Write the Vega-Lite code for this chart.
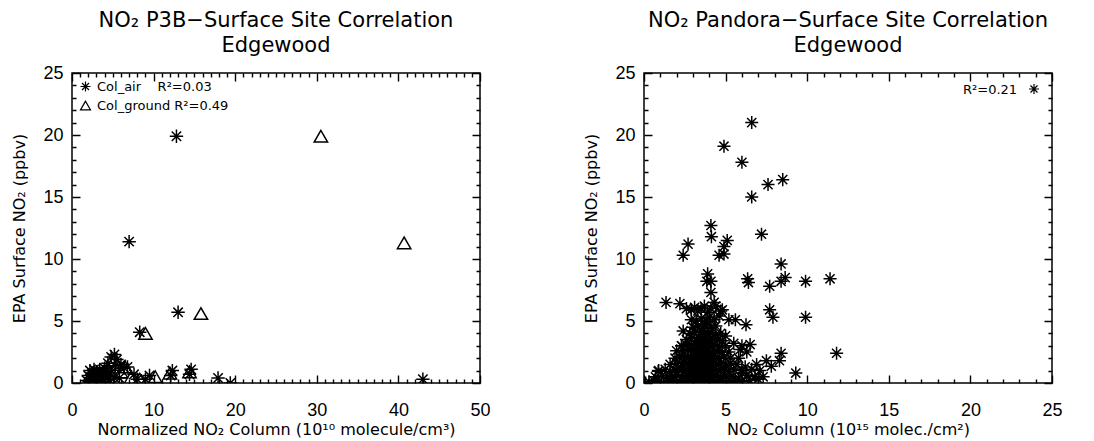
{
  "$schema": "https://vega.github.io/schema/vega-lite/v6.json",
  "background": "white",
  "padding": {"left": 11, "top": 9, "right": 5, "bottom": 0},
  "bounds": "flush",
  "spacing": 164,
  "resolve": {"scale": {"shape": "independent"}, "legend": {"shape": "independent"}},
  "config": {
    "view": {"stroke": "black", "strokeWidth": 1.5},
    "font": "DejaVu Sans",
    "axis": {"grid": true, "gridColor": "black", "gridOpacity": 1, "gridWidth": 1.4, "domain": false, "ticks": false, "labelColor": "black", "titleColor": "black", "labelFont": "Liberation Sans", "titleFont": "DejaVu Sans", "titleFontWeight": "normal", "labelOverlap": false, "labelFlush": false},
    "title": {"font": "DejaVu Sans", "fontWeight": "normal", "fontSize": 21, "lineHeight": 25, "offset": 8, "anchor": "middle", "color": "black"},
    "legend": {"labelFont": "DejaVu Sans", "titleFont": "DejaVu Sans", "labelColor": "black", "titleColor": "black"}
  },
  "datasets": {
    "p3b": [
      {"column": 12.8, "surface": 19.9, "series": "Col_air"},
      {"column": 7.0, "surface": 11.4, "series": "Col_air"},
      {"column": 13.0, "surface": 5.7, "series": "Col_air"},
      {"column": 8.3, "surface": 4.1, "series": "Col_air"},
      {"column": 1.8, "surface": 0.2, "series": "Col_air"},
      {"column": 2.0, "surface": 0.6, "series": "Col_air"},
      {"column": 2.2, "surface": 1.0, "series": "Col_air"},
      {"column": 2.4, "surface": 0.3, "series": "Col_air"},
      {"column": 2.5, "surface": 0.8, "series": "Col_air"},
      {"column": 2.7, "surface": 1.1, "series": "Col_air"},
      {"column": 2.8, "surface": 0.5, "series": "Col_air"},
      {"column": 3.0, "surface": 0.9, "series": "Col_air"},
      {"column": 3.1, "surface": 0.2, "series": "Col_air"},
      {"column": 3.3, "surface": 0.7, "series": "Col_air"},
      {"column": 3.4, "surface": 1.1, "series": "Col_air"},
      {"column": 3.6, "surface": 0.4, "series": "Col_air"},
      {"column": 3.8, "surface": 0.9, "series": "Col_air"},
      {"column": 3.9, "surface": 0.1, "series": "Col_air"},
      {"column": 4.1, "surface": 0.6, "series": "Col_air"},
      {"column": 4.3, "surface": 1.0, "series": "Col_air"},
      {"column": 4.5, "surface": 0.3, "series": "Col_air"},
      {"column": 4.7, "surface": 0.8, "series": "Col_air"},
      {"column": 2.1, "surface": 0.1, "series": "Col_air"},
      {"column": 2.9, "surface": 0.0, "series": "Col_air"},
      {"column": 3.7, "surface": 0.0, "series": "Col_air"},
      {"column": 4.0, "surface": 1.2, "series": "Col_air"},
      {"column": 4.4, "surface": 1.6, "series": "Col_air"},
      {"column": 4.8, "surface": 2.1, "series": "Col_air"},
      {"column": 5.2, "surface": 2.3, "series": "Col_air"},
      {"column": 5.5, "surface": 1.9, "series": "Col_air"},
      {"column": 5.3, "surface": 1.4, "series": "Col_air"},
      {"column": 6.0, "surface": 1.5, "series": "Col_air"},
      {"column": 6.4, "surface": 1.2, "series": "Col_air"},
      {"column": 6.8, "surface": 1.3, "series": "Col_air"},
      {"column": 5.8, "surface": 0.4, "series": "Col_air"},
      {"column": 5.2, "surface": 0.4, "series": "Col_air"},
      {"column": 7.6, "surface": 0.7, "series": "Col_air"},
      {"column": 8.0, "surface": 0.3, "series": "Col_air"},
      {"column": 9.0, "surface": 0.3, "series": "Col_air"},
      {"column": 9.5, "surface": 0.6, "series": "Col_air"},
      {"column": 12.1, "surface": 0.6, "series": "Col_air"},
      {"column": 12.3, "surface": 1.0, "series": "Col_air"},
      {"column": 14.4, "surface": 0.7, "series": "Col_air"},
      {"column": 14.6, "surface": 1.1, "series": "Col_air"},
      {"column": 17.9, "surface": 0.4, "series": "Col_air"},
      {"column": 19.4, "surface": 0.0, "series": "Col_air"},
      {"column": 43.0, "surface": 0.3, "series": "Col_air"},
      {"column": 30.5, "surface": 19.9, "series": "Col_ground"},
      {"column": 40.7, "surface": 11.3, "series": "Col_ground"},
      {"column": 15.8, "surface": 5.6, "series": "Col_ground"},
      {"column": 9.0, "surface": 4.0, "series": "Col_ground"},
      {"column": 10.2, "surface": 0.5, "series": "Col_ground"},
      {"column": 14.4, "surface": 0.9, "series": "Col_ground"},
      {"column": 7.2, "surface": 0.4, "series": "Col_ground"},
      {"column": 5.5, "surface": 1.5, "series": "Col_ground"},
      {"column": 6.5, "surface": 1.3, "series": "Col_ground"},
      {"column": 4.0, "surface": 0.5, "series": "Col_ground"},
      {"column": 3.0, "surface": 0.8, "series": "Col_ground"},
      {"column": 2.5, "surface": 0.4, "series": "Col_ground"},
      {"column": 3.5, "surface": 0.2, "series": "Col_ground"},
      {"column": 4.5, "surface": 1.0, "series": "Col_ground"},
      {"column": 12.0, "surface": 0.8, "series": "Col_ground"},
      {"column": 8.3, "surface": 0.3, "series": "Col_ground"},
      {"column": 6.0, "surface": 0.9, "series": "Col_ground"}
    ],
    "pandora": [
      {"column": 4.9, "surface": 19.1, "series": "Pandora"},
      {"column": 6.6, "surface": 21.0, "series": "Pandora"},
      {"column": 6.0, "surface": 17.8, "series": "Pandora"},
      {"column": 7.6, "surface": 16.0, "series": "Pandora"},
      {"column": 8.5, "surface": 16.4, "series": "Pandora"},
      {"column": 6.6, "surface": 15.0, "series": "Pandora"},
      {"column": 4.1, "surface": 12.7, "series": "Pandora"},
      {"column": 4.13, "surface": 11.8, "series": "Pandora"},
      {"column": 2.7, "surface": 11.2, "series": "Pandora"},
      {"column": 2.4, "surface": 10.3, "series": "Pandora"},
      {"column": 5.1, "surface": 11.5, "series": "Pandora"},
      {"column": 4.9, "surface": 11.0, "series": "Pandora"},
      {"column": 4.6, "surface": 10.3, "series": "Pandora"},
      {"column": 4.9, "surface": 10.4, "series": "Pandora"},
      {"column": 7.2, "surface": 12.0, "series": "Pandora"},
      {"column": 3.9, "surface": 8.8, "series": "Pandora"},
      {"column": 3.85, "surface": 8.2, "series": "Pandora"},
      {"column": 4.1, "surface": 8.2, "series": "Pandora"},
      {"column": 6.35, "surface": 8.4, "series": "Pandora"},
      {"column": 6.4, "surface": 8.1, "series": "Pandora"},
      {"column": 7.7, "surface": 7.8, "series": "Pandora"},
      {"column": 8.4, "surface": 9.6, "series": "Pandora"},
      {"column": 8.4, "surface": 8.2, "series": "Pandora"},
      {"column": 8.65, "surface": 8.5, "series": "Pandora"},
      {"column": 9.9, "surface": 8.2, "series": "Pandora"},
      {"column": 11.4, "surface": 8.4, "series": "Pandora"},
      {"column": 9.9, "surface": 5.3, "series": "Pandora"},
      {"column": 7.7, "surface": 5.9, "series": "Pandora"},
      {"column": 7.9, "surface": 5.3, "series": "Pandora"},
      {"column": 1.35, "surface": 6.5, "series": "Pandora"},
      {"column": 2.2, "surface": 6.4, "series": "Pandora"},
      {"column": 4.1, "surface": 7.3, "series": "Pandora"},
      {"column": 4.3, "surface": 6.5, "series": "Pandora"},
      {"column": 4.8, "surface": 5.9, "series": "Pandora"},
      {"column": 5.2, "surface": 5.1, "series": "Pandora"},
      {"column": 5.6, "surface": 5.1, "series": "Pandora"},
      {"column": 6.25, "surface": 4.7, "series": "Pandora"},
      {"column": 6.5, "surface": 3.1, "series": "Pandora"},
      {"column": 5.9, "surface": 2.7, "series": "Pandora"},
      {"column": 8.4, "surface": 2.4, "series": "Pandora"},
      {"column": 8.3, "surface": 1.8, "series": "Pandora"},
      {"column": 7.8, "surface": 1.35, "series": "Pandora"},
      {"column": 6.9, "surface": 1.5, "series": "Pandora"},
      {"column": 9.3, "surface": 0.8, "series": "Pandora"},
      {"column": 7.3, "surface": 0.5, "series": "Pandora"},
      {"column": 11.8, "surface": 2.4, "series": "Pandora"},
      {"column": 2.4, "surface": 4.2, "series": "Pandora"},
      {"column": 2.3, "surface": 3.0, "series": "Pandora"},
      {"column": 0.87, "surface": 0.95, "series": "Pandora"},
      {"column": 0.1, "surface": 0.0, "series": "Pandora"},
      {"column": 0.3, "surface": 0.1, "series": "Pandora"},
      {"column": 0.6, "surface": 0.2, "series": "Pandora"},
      {"column": 0.9, "surface": 0.1, "series": "Pandora"},
      {"column": 1.2, "surface": 0.0, "series": "Pandora"},
      {"column": 1.5, "surface": 0.1, "series": "Pandora"},
      {"column": 1.8, "surface": 0.2, "series": "Pandora"},
      {"column": 2.0, "surface": 0.0, "series": "Pandora"},
      {"column": 2.2, "surface": 0.1, "series": "Pandora"},
      {"column": 2.5, "surface": 0.0, "series": "Pandora"},
      {"column": 2.7, "surface": 0.2, "series": "Pandora"},
      {"column": 2.9, "surface": 0.1, "series": "Pandora"},
      {"column": 3.1, "surface": 0.0, "series": "Pandora"},
      {"column": 3.3, "surface": 0.2, "series": "Pandora"},
      {"column": 3.5, "surface": 0.1, "series": "Pandora"},
      {"column": 3.7, "surface": 0.0, "series": "Pandora"},
      {"column": 3.9, "surface": 0.1, "series": "Pandora"},
      {"column": 4.1, "surface": 0.2, "series": "Pandora"},
      {"column": 4.3, "surface": 0.0, "series": "Pandora"},
      {"column": 4.5, "surface": 0.1, "series": "Pandora"},
      {"column": 4.8, "surface": 0.2, "series": "Pandora"},
      {"column": 5.0, "surface": 0.0, "series": "Pandora"},
      {"column": 5.3, "surface": 0.1, "series": "Pandora"},
      {"column": 5.6, "surface": 0.2, "series": "Pandora"},
      {"column": 6.0, "surface": 0.1, "series": "Pandora"},
      {"column": 6.5, "surface": 0.2, "series": "Pandora"},
      {"column": 7.0, "surface": 0.3, "series": "Pandora"},
      {"column": 0.7, "surface": 0.5, "series": "Pandora"},
      {"column": 1.1, "surface": 0.6, "series": "Pandora"},
      {"column": 1.4, "surface": 0.4, "series": "Pandora"},
      {"column": 1.7, "surface": 0.5, "series": "Pandora"},
      {"column": 2.0, "surface": 0.6, "series": "Pandora"},
      {"column": 2.3, "surface": 0.5, "series": "Pandora"},
      {"column": 2.6, "surface": 0.4, "series": "Pandora"},
      {"column": 2.8, "surface": 0.6, "series": "Pandora"},
      {"column": 3.0, "surface": 0.5, "series": "Pandora"},
      {"column": 3.2, "surface": 0.7, "series": "Pandora"},
      {"column": 3.4, "surface": 0.4, "series": "Pandora"},
      {"column": 3.6, "surface": 0.6, "series": "Pandora"},
      {"column": 3.8, "surface": 0.5, "series": "Pandora"},
      {"column": 4.0, "surface": 0.7, "series": "Pandora"},
      {"column": 4.2, "surface": 0.4, "series": "Pandora"},
      {"column": 4.4, "surface": 0.6, "series": "Pandora"},
      {"column": 4.7, "surface": 0.5, "series": "Pandora"},
      {"column": 5.0, "surface": 0.6, "series": "Pandora"},
      {"column": 5.4, "surface": 0.5, "series": "Pandora"},
      {"column": 5.8, "surface": 0.4, "series": "Pandora"},
      {"column": 6.3, "surface": 0.6, "series": "Pandora"},
      {"column": 6.8, "surface": 0.5, "series": "Pandora"},
      {"column": 0.9, "surface": 1.0, "series": "Pandora"},
      {"column": 1.3, "surface": 1.1, "series": "Pandora"},
      {"column": 1.6, "surface": 0.9, "series": "Pandora"},
      {"column": 1.9, "surface": 1.0, "series": "Pandora"},
      {"column": 2.1, "surface": 1.2, "series": "Pandora"},
      {"column": 2.4, "surface": 0.9, "series": "Pandora"},
      {"column": 2.7, "surface": 1.1, "series": "Pandora"},
      {"column": 2.9, "surface": 1.0, "series": "Pandora"},
      {"column": 3.1, "surface": 1.2, "series": "Pandora"},
      {"column": 3.3, "surface": 0.9, "series": "Pandora"},
      {"column": 3.5, "surface": 1.1, "series": "Pandora"},
      {"column": 3.7, "surface": 1.0, "series": "Pandora"},
      {"column": 3.9, "surface": 1.2, "series": "Pandora"},
      {"column": 4.1, "surface": 0.9, "series": "Pandora"},
      {"column": 4.3, "surface": 1.1, "series": "Pandora"},
      {"column": 4.6, "surface": 1.0, "series": "Pandora"},
      {"column": 4.9, "surface": 1.2, "series": "Pandora"},
      {"column": 5.2, "surface": 0.9, "series": "Pandora"},
      {"column": 5.5, "surface": 1.1, "series": "Pandora"},
      {"column": 6.0, "surface": 1.0, "series": "Pandora"},
      {"column": 6.6, "surface": 1.1, "series": "Pandora"},
      {"column": 7.1, "surface": 1.0, "series": "Pandora"},
      {"column": 1.6, "surface": 1.5, "series": "Pandora"},
      {"column": 2.0, "surface": 1.6, "series": "Pandora"},
      {"column": 2.3, "surface": 1.4, "series": "Pandora"},
      {"column": 2.5, "surface": 1.7, "series": "Pandora"},
      {"column": 2.8, "surface": 1.5, "series": "Pandora"},
      {"column": 3.0, "surface": 1.6, "series": "Pandora"},
      {"column": 3.2, "surface": 1.4, "series": "Pandora"},
      {"column": 3.4, "surface": 1.7, "series": "Pandora"},
      {"column": 3.6, "surface": 1.5, "series": "Pandora"},
      {"column": 3.8, "surface": 1.6, "series": "Pandora"},
      {"column": 4.0, "surface": 1.4, "series": "Pandora"},
      {"column": 4.2, "surface": 1.7, "series": "Pandora"},
      {"column": 4.4, "surface": 1.5, "series": "Pandora"},
      {"column": 4.7, "surface": 1.6, "series": "Pandora"},
      {"column": 5.0, "surface": 1.4, "series": "Pandora"},
      {"column": 5.3, "surface": 1.6, "series": "Pandora"},
      {"column": 5.7, "surface": 1.5, "series": "Pandora"},
      {"column": 6.2, "surface": 1.3, "series": "Pandora"},
      {"column": 1.9, "surface": 2.0, "series": "Pandora"},
      {"column": 2.2, "surface": 2.1, "series": "Pandora"},
      {"column": 2.5, "surface": 1.9, "series": "Pandora"},
      {"column": 2.7, "surface": 2.2, "series": "Pandora"},
      {"column": 2.9, "surface": 2.0, "series": "Pandora"},
      {"column": 3.1, "surface": 2.1, "series": "Pandora"},
      {"column": 3.3, "surface": 1.9, "series": "Pandora"},
      {"column": 3.5, "surface": 2.2, "series": "Pandora"},
      {"column": 3.7, "surface": 2.0, "series": "Pandora"},
      {"column": 3.9, "surface": 2.1, "series": "Pandora"},
      {"column": 4.1, "surface": 1.9, "series": "Pandora"},
      {"column": 4.3, "surface": 2.2, "series": "Pandora"},
      {"column": 4.6, "surface": 2.0, "series": "Pandora"},
      {"column": 4.9, "surface": 2.1, "series": "Pandora"},
      {"column": 5.3, "surface": 2.0, "series": "Pandora"},
      {"column": 5.8, "surface": 2.0, "series": "Pandora"},
      {"column": 2.0, "surface": 2.6, "series": "Pandora"},
      {"column": 2.4, "surface": 2.5, "series": "Pandora"},
      {"column": 2.7, "surface": 2.7, "series": "Pandora"},
      {"column": 3.0, "surface": 2.5, "series": "Pandora"},
      {"column": 3.2, "surface": 2.6, "series": "Pandora"},
      {"column": 3.4, "surface": 2.4, "series": "Pandora"},
      {"column": 3.6, "surface": 2.7, "series": "Pandora"},
      {"column": 3.8, "surface": 2.5, "series": "Pandora"},
      {"column": 4.0, "surface": 2.6, "series": "Pandora"},
      {"column": 4.2, "surface": 2.4, "series": "Pandora"},
      {"column": 4.5, "surface": 2.6, "series": "Pandora"},
      {"column": 4.8, "surface": 2.5, "series": "Pandora"},
      {"column": 5.2, "surface": 2.5, "series": "Pandora"},
      {"column": 2.3, "surface": 3.0, "series": "Pandora"},
      {"column": 2.6, "surface": 3.1, "series": "Pandora"},
      {"column": 2.9, "surface": 2.9, "series": "Pandora"},
      {"column": 3.1, "surface": 3.2, "series": "Pandora"},
      {"column": 3.3, "surface": 3.0, "series": "Pandora"},
      {"column": 3.5, "surface": 3.1, "series": "Pandora"},
      {"column": 3.7, "surface": 2.9, "series": "Pandora"},
      {"column": 3.9, "surface": 3.2, "series": "Pandora"},
      {"column": 4.1, "surface": 3.0, "series": "Pandora"},
      {"column": 4.3, "surface": 3.1, "series": "Pandora"},
      {"column": 4.6, "surface": 2.9, "series": "Pandora"},
      {"column": 5.0, "surface": 3.0, "series": "Pandora"},
      {"column": 2.6, "surface": 3.5, "series": "Pandora"},
      {"column": 2.9, "surface": 3.6, "series": "Pandora"},
      {"column": 3.2, "surface": 3.4, "series": "Pandora"},
      {"column": 3.4, "surface": 3.6, "series": "Pandora"},
      {"column": 3.6, "surface": 3.5, "series": "Pandora"},
      {"column": 3.8, "surface": 3.7, "series": "Pandora"},
      {"column": 4.0, "surface": 3.4, "series": "Pandora"},
      {"column": 4.2, "surface": 3.6, "series": "Pandora"},
      {"column": 4.5, "surface": 3.5, "series": "Pandora"},
      {"column": 4.8, "surface": 3.4, "series": "Pandora"},
      {"column": 2.8, "surface": 4.0, "series": "Pandora"},
      {"column": 3.1, "surface": 4.1, "series": "Pandora"},
      {"column": 3.4, "surface": 3.9, "series": "Pandora"},
      {"column": 3.6, "surface": 4.2, "series": "Pandora"},
      {"column": 3.9, "surface": 4.0, "series": "Pandora"},
      {"column": 4.1, "surface": 4.1, "series": "Pandora"},
      {"column": 4.4, "surface": 3.9, "series": "Pandora"},
      {"column": 4.7, "surface": 4.0, "series": "Pandora"},
      {"column": 5.0, "surface": 3.8, "series": "Pandora"},
      {"column": 3.0, "surface": 4.5, "series": "Pandora"},
      {"column": 3.3, "surface": 4.6, "series": "Pandora"},
      {"column": 3.6, "surface": 4.4, "series": "Pandora"},
      {"column": 3.8, "surface": 4.7, "series": "Pandora"},
      {"column": 4.1, "surface": 4.5, "series": "Pandora"},
      {"column": 4.4, "surface": 4.6, "series": "Pandora"},
      {"column": 2.9, "surface": 5.1, "series": "Pandora"},
      {"column": 3.2, "surface": 5.0, "series": "Pandora"},
      {"column": 3.5, "surface": 5.2, "series": "Pandora"},
      {"column": 3.8, "surface": 5.0, "series": "Pandora"},
      {"column": 4.0, "surface": 5.3, "series": "Pandora"},
      {"column": 4.3, "surface": 5.1, "series": "Pandora"},
      {"column": 4.6, "surface": 5.4, "series": "Pandora"},
      {"column": 2.6, "surface": 6.0, "series": "Pandora"},
      {"column": 2.9, "surface": 5.9, "series": "Pandora"},
      {"column": 3.1, "surface": 6.1, "series": "Pandora"},
      {"column": 3.3, "surface": 5.8, "series": "Pandora"},
      {"column": 3.5, "surface": 6.0, "series": "Pandora"},
      {"column": 3.7, "surface": 6.2, "series": "Pandora"},
      {"column": 3.9, "surface": 5.7, "series": "Pandora"},
      {"column": 4.1, "surface": 6.0, "series": "Pandora"},
      {"column": 4.4, "surface": 6.2, "series": "Pandora"},
      {"column": 4.7, "surface": 5.8, "series": "Pandora"},
      {"column": 5.5, "surface": 3.2, "series": "Pandora"},
      {"column": 6.0, "surface": 3.0, "series": "Pandora"},
      {"column": 6.3, "surface": 2.5, "series": "Pandora"},
      {"column": 7.5, "surface": 1.8, "series": "Pandora"},
      {"column": 6.0, "surface": 0.8, "series": "Pandora"}
    ]
  },
  "hconcat": [
    {
      "width": 408,
      "height": 310,
      "title": {"text": ["NO₂ P3B−Surface Site Correlation", "Edgewood"]},
      "data": {"name": "p3b"},
      "mark": {"type": "point", "clip": true, "filled": false, "color": "black", "strokeWidth": 1.5, "opacity": 1, "size": 180},
      "encoding": {
        "x": {"field": "column", "type": "quantitative", "scale": {"domain": [0, 50], "nice": false},
          "axis": {"orient": "bottom", "values": [0,1,2,3,4,5,6,7,8,9,10,11,12,13,14,15,16,17,18,19,20,21,22,23,24,25,26,27,28,29,30,31,32,33,34,35,36,37,38,39,40,41,42,43,44,45,46,47,48,49,50], "gridDash": {"condition": {"test": "datum.value % 10 === 0", "value": [8, 294, 8, 1000]}, "value": [4, 302, 4, 1000]}, "labelExpr": "datum.value % 10 === 0 ? datum.label : ''", "labelFontSize": 18, "labelPadding": 18, "title": "Normalized NO₂ Column (10¹⁰ molecule/cm³)", "titleFontSize": 16, "titlePadding": 2}},
        "y": {"field": "surface", "type": "quantitative", "scale": {"domain": [0, 25], "nice": false},
          "axis": {"orient": "left", "values": [0,1,2,3,4,5,6,7,8,9,10,11,12,13,14,15,16,17,18,19,20,21,22,23,24,25], "gridDash": {"condition": {"test": "datum.value % 5 === 0", "value": [8, 392, 8, 1000]}, "value": [4, 400, 4, 1000]}, "labelExpr": "datum.value % 5 === 0 ? datum.label : ''", "labelFontSize": 18, "labelPadding": 9, "title": "EPA Surface NO₂ (ppbv)", "titleFontSize": 16, "titlePadding": 15}},
        "shape": {"field": "series", "type": "nominal",
          "scale": {"domain": ["Col_air", "Col_ground"], "range": ["M-1,0L1,0M0,-1L0,1M-0.7,-0.7L0.7,0.7M-0.7,0.7L0.7,-0.7", "triangle-up"]},
          "legend": {"orient": "top-left", "offset": 7, "title": null, "labelFontSize": 13, "symbolSize": 100, "symbolStrokeColor": "black", "symbolFillColor": "transparent", "symbolStrokeWidth": 1.2, "rowPadding": 4, "labelOffset": 5, "labelExpr": "datum.label == 'Col_air' ? 'Col_air\u00a0\u00a0\u00a0\u00a0R²=0.03' : 'Col_ground\u00a0R²=0.49'"}}
      }
    },
    {
      "width": 408,
      "height": 310,
      "title": {"text": ["NO₂ Pandora−Surface Site Correlation", "Edgewood"]},
      "data": {"name": "pandora"},
      "mark": {"type": "point", "clip": true, "filled": false, "color": "black", "strokeWidth": 1.5, "opacity": 1, "size": 170},
      "encoding": {
        "x": {"field": "column", "type": "quantitative", "scale": {"domain": [0, 25], "nice": false},
          "axis": {"orient": "bottom", "values": [0,1,2,3,4,5,6,7,8,9,10,11,12,13,14,15,16,17,18,19,20,21,22,23,24,25], "gridDash": {"condition": {"test": "datum.value % 5 === 0", "value": [8, 294, 8, 1000]}, "value": [4, 302, 4, 1000]}, "labelExpr": "datum.value % 5 === 0 ? datum.label : ''", "labelFontSize": 18, "labelPadding": 18, "title": "NO₂ Column (10¹⁵ molec./cm²)", "titleFontSize": 16, "titlePadding": 2}},
        "y": {"field": "surface", "type": "quantitative", "scale": {"domain": [0, 25], "nice": false},
          "axis": {"orient": "left", "values": [0,1,2,3,4,5,6,7,8,9,10,11,12,13,14,15,16,17,18,19,20,21,22,23,24,25], "gridDash": {"condition": {"test": "datum.value % 5 === 0", "value": [8, 392, 8, 1000]}, "value": [4, 400, 4, 1000]}, "labelExpr": "datum.value % 5 === 0 ? datum.label : ''", "labelFontSize": 18, "labelPadding": 9, "title": "EPA Surface NO₂ (ppbv)", "titleFontSize": 16, "titlePadding": 15}},
        "shape": {"field": "series", "type": "nominal",
          "scale": {"domain": ["Pandora"], "range": ["M-1,0L1,0M0,-1L0,1M-0.7,-0.7L0.7,0.7M-0.7,0.7L0.7,-0.7"]},
          "legend": {"orient": "top-right", "offset": 10, "title": "R²=0.21", "titleOrient": "left", "titleFontSize": 13, "titleFontWeight": "normal", "titlePadding": 10, "labelExpr": "''", "labelOffset": 0, "symbolSize": 100, "symbolStrokeColor": "black", "symbolFillColor": "transparent", "symbolStrokeWidth": 1.2}}
      }
    }
  ]
}
